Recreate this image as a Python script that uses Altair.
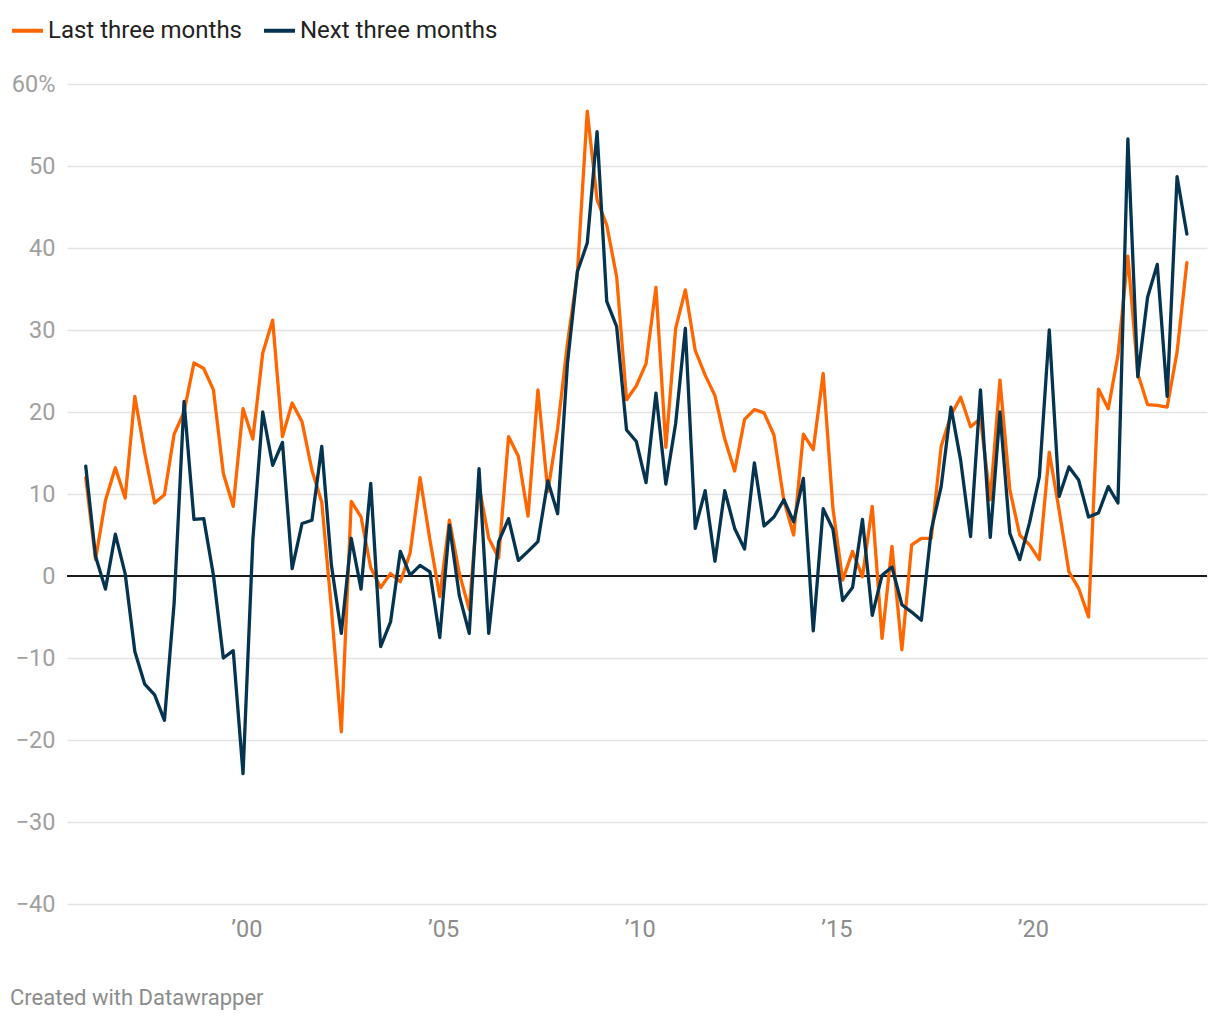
import altair as alt
import pandas as pd

# Quarterly observations, Dec 1995 .. Dec 2023 (113 points)
start_date = "1995-12-01"
n_points = 113

last_three_months = [
    12.0, 2.0, 9.2, 13.2, 9.5, 21.9, 15.0, 8.9, 9.9, 17.3,
    20.0, 26.0, 25.3, 22.7, 12.5, 8.5, 20.4, 16.7, 27.2, 31.2,
    17.0, 21.1, 18.8, 12.9, 9.0, -4.0, -19.0, 9.1, 7.2, 1.0,
    -1.4, 0.3, -0.7, 2.8, 12.0, 4.4, -2.5, 6.8, 0.3, -4.1,
    11.0, 4.6, 2.2, 17.0, 14.6, 7.3, 22.7, 10.3, 18.0, 28.4,
    36.9, 56.7, 45.9, 42.8, 36.5, 21.5, 23.2, 25.9, 35.2, 15.7,
    30.2, 34.9, 27.5, 24.5, 22.0, 16.7, 12.8, 19.1, 20.3, 19.9,
    17.2, 9.2, 5.0, 17.3, 15.4, 24.7, 8.2, -0.5, 3.0, -0.1,
    8.5, -7.6, 3.6, -9.0, 3.8, 4.6, 4.6, 15.8, 19.6, 21.8,
    18.2, 19.2, 9.3, 23.9, 10.5, 5.0, 3.8, 2.0, 15.1, 8.0,
    0.5, -1.5, -5.0, 22.8, 20.4, 26.9, 39.0, 24.7, 20.9, 20.8,
    20.6, 27.3, 38.2,
]

next_three_months = [
    13.4, 2.4, -1.6, 5.1, 0.3, -9.2, -13.2, -14.5, -17.6, -3.3,
    21.3, 6.9, 7.0, 0.1, -10.0, -9.1, -24.1, 4.4, 20.0, 13.5,
    16.3, 0.9, 6.4, 6.8, 15.8, 1.3, -7.0, 4.6, -1.6, 11.3,
    -8.6, -5.6, 3.0, 0.1, 1.3, 0.5, -7.5, 6.2, -2.4, -7.0,
    13.1, -7.0, 4.2, 7.0, 1.9, 3.0, 4.2, 11.6, 7.6, 25.9,
    37.1, 40.6, 54.2, 33.5, 30.4, 17.8, 16.4, 11.4, 22.3, 11.2,
    18.6, 30.2, 5.8, 10.4, 1.8, 10.4, 5.8, 3.3, 13.8, 6.1,
    7.2, 9.3, 6.6, 11.9, -6.7, 8.2, 5.7, -3.0, -1.4, 6.9,
    -4.8, 0.1, 1.1, -3.5, -4.4, -5.4, 5.6, 10.9, 20.6, 14.1,
    4.8, 22.7, 4.7, 20.0, 5.2, 2.0, 6.5, 12.1, 30.0, 9.7,
    13.3, 11.7, 7.2, 7.7, 10.9, 8.9, 53.3, 24.3, 34.0, 38.0,
    21.9, 48.7, 41.7,
]

series_names = ["Last three months", "Next three months"]
series_colors = ["#ff6600", "#053450"]
y_ticks = [-40, -30, -20, -10, 0, 10, 20, 30, 40, 50, 60]
x_tick_years = [2000, 2005, 2010, 2015, 2020]

dates = pd.date_range(start_date, periods=n_points, freq="3MS")
df = pd.concat([
    pd.DataFrame({"date": dates, "series": series_names[0], "value": last_three_months}),
    pd.DataFrame({"date": dates, "series": series_names[1], "value": next_three_months}),
])

FONT = "Roboto"

x_enc = alt.X(
    "date:T",
    scale=alt.Scale(domain=[alt.DateTime(year=1995, month=6, date=10),
                            alt.DateTime(year=2024, month=6, date=5)]),
    axis=alt.Axis(
        title=None,
        values=[alt.DateTime(year=y, month=1, date=1) for y in x_tick_years],
        format="%y",
        labelExpr="'\u2019' + datum.label",
        ticks=False, domain=False, grid=False,
        labelFontSize=23.5, labelColor="#8c8c8c", labelFont=FONT,
        labelPadding=13,
    ),
)

y_scale = alt.Scale(domain=[-40, 60], nice=False, zero=False)

lines = alt.Chart(df).mark_line(strokeWidth=3.3, strokeJoin="round", strokeCap="round").encode(
    x=x_enc,
    y=alt.Y(
        "value:Q",
        scale=y_scale,
        axis=alt.Axis(
            title=None,
            values=y_ticks,
            labelExpr="datum.value == 60 ? datum.label + '%' : datum.label",
            ticks=False, domain=False, grid=True,
            gridColor="#e3e3e3", gridWidth=1.5,
            labelFontSize=23.5, labelColor="#a0a0a0", labelFont=FONT,
            labelPadding=12,
        ),
    ),
    color=alt.Color(
        "series:N",
        scale=alt.Scale(domain=series_names, range=series_colors),
        legend=alt.Legend(
            title=None,
            orient="none",
            legendX=-57,
            legendY=-71,
            direction="horizontal",
            symbolType="stroke",
            symbolSize=961,
            symbolStrokeWidth=4,
            labelFontSize=24,
            labelFont=FONT,
            labelColor="#222222",
            labelOffset=3,
            labelLimit=0,
            columnPadding=13,
            padding=0,
        ),
    ),
)

zero = alt.Chart(pd.DataFrame({"y": [0]})).mark_rule(color="#1a1a1a", strokeWidth=2).encode(
    y=alt.Y("y:Q", scale=y_scale)
)

chart = alt.layer(zero, lines).properties(
    width=1140,
    height=820,
    padding={"left": 59, "top": 76, "right": 5, "bottom": 110},
    autosize=alt.AutoSizeParams(type="none"),
    title=alt.TitleParams(
        "Created with Datawrapper",
        orient="bottom", anchor="start", dx=0, offset=47,
        fontSize=22, color="#8c8c8c", font=FONT, fontWeight="normal",
    ),
).configure_view(stroke=None)

chart.save("out.html", embed_options={"renderer": "svg", "actions": False})
